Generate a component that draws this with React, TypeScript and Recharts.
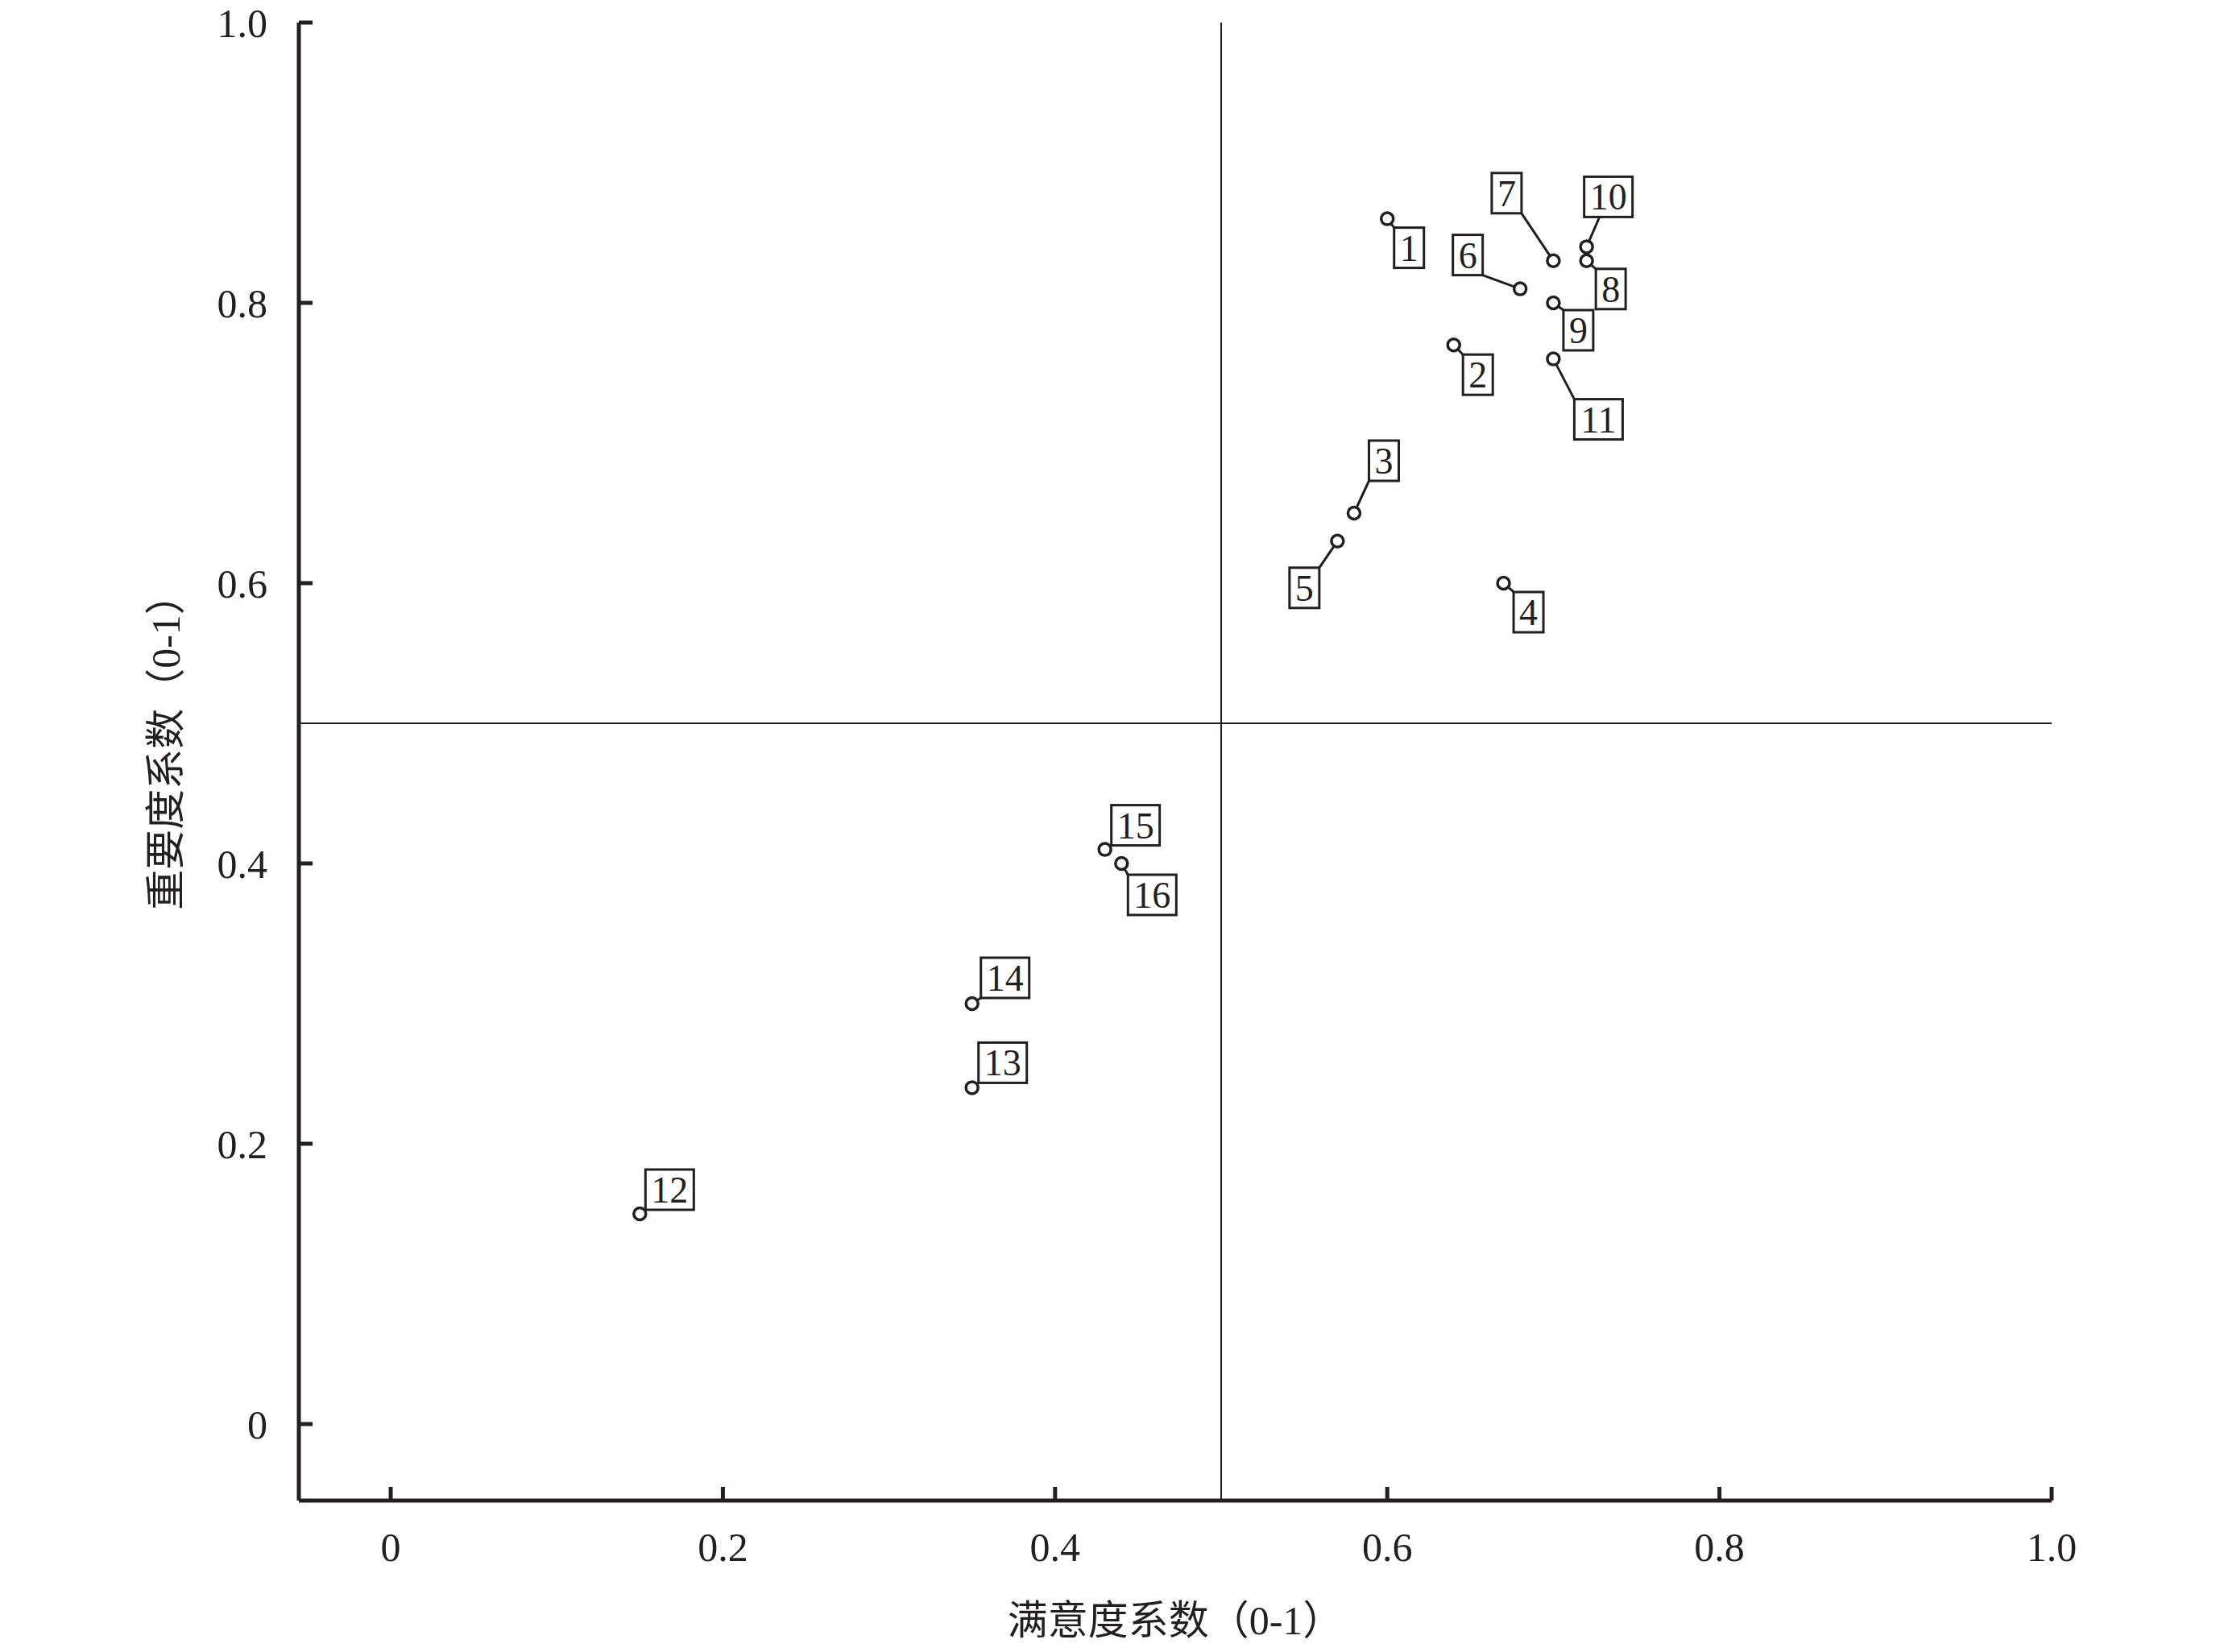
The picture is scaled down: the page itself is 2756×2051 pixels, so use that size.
import React from 'react';
import { ScatterChart, Scatter, XAxis, YAxis, ReferenceLine, Label } from 'recharts';

// ---- data ----
const itemIds = ['1', '2', '3', '4', '5', '6', '7', '8', '9', '10', '11', '12', '13', '14', '15', '16'];
const satisfaction = [0.6, 0.64, 0.58, 0.67, 0.57, 0.68, 0.7, 0.72, 0.7, 0.72, 0.7, 0.15, 0.35, 0.35, 0.43, 0.44];
const importance = [0.86, 0.77, 0.65, 0.6, 0.63, 0.81, 0.83, 0.83, 0.8, 0.84, 0.76, 0.15, 0.24, 0.3, 0.41, 0.4];
const xTicks = [0, 0.2, 0.4, 0.6, 0.8, 1.0];
const yTicks = [0, 0.2, 0.4, 0.6, 0.8, 1.0];
const xTitle = '满意度系数（0-1）';
const yTitle = '重要度系数（0-1）';
const thresholdX = 0.5;
const thresholdY = 0.5;

// ---- label placement (styling: box-centre offset from its point, px) ----
const labelOffsets: [number, number][] = [
  [27, 36], [30, 37], [37, -65], [31, 36], [-41, 58], [-65, -42], [-58, -84], [30, 35],
  [31, 34], [27, -62], [56, 75], [37, -30], [38, -31], [41, -32], [38, -30], [38, 39],
];
// leader lines that aim at the box centre instead of the nearest box point
const centreAimed = ['10'];

const INK = '#231f20';
const SERIF = "'Liberation Serif', 'Times New Roman', 'Noto Sans CJK SC', serif";

const data = itemIds.map((id, i) => ({ id, x: satisfaction[i], y: importance[i] }));

const fmt = (v: number) => (v === 0 ? '0' : v.toFixed(1));

const PointShape = (props: any) => {
  const { cx, cy, payload } = props;
  if (cx == null || cy == null) return null;
  const idx = itemIds.indexOf(payload.id);
  const [dx, dy] = labelOffsets[idx];
  const text = String(payload.id);
  const w = text.length * 23 + 14;
  const h = 50;
  const bx = cx + dx - w / 2;
  const by = cy + dy - h / 2;
  let lx = Math.min(Math.max(cx, bx), bx + w);
  let ly = Math.min(Math.max(cy, by), by + h);
  if (centreAimed.includes(text)) {
    const tx = dx !== 0 ? (w / 2) / Math.abs(dx) : Infinity;
    const ty = dy !== 0 ? (h / 2) / Math.abs(dy) : Infinity;
    const t = 1 - Math.min(tx, ty, 1);
    lx = cx + dx * t;
    ly = cy + dy * t;
  }
  return (
    <g>
      <line x1={cx} y1={cy} x2={lx} y2={ly} stroke={INK} strokeWidth={3} />
      <rect x={bx} y={by} width={w} height={h} fill="#fff" stroke={INK} strokeWidth={3} />
      <text x={cx + dx} y={cy + dy + 16} textAnchor="middle" fontSize={46} fontFamily={SERIF} fill={INK}>
        {text}
      </text>
      <circle cx={cx} cy={cy} r={7.5} fill="#fff" stroke={INK} strokeWidth={3.5} />
    </g>
  );
};

const YTitle = (p: any) => {
  const vb = p.viewBox || { x: 0, y: 28, width: 371, height: 1835 };
  const x = vb.x + 206;
  const y = vb.y + vb.height / 2 - 24;
  return (
    <text x={x} y={y} transform={`rotate(-90, ${x}, ${y})`} textAnchor="middle" dominantBaseline="central"
      fontSize={50} fontFamily={SERIF} fill={INK}>
      {yTitle}
    </text>
  );
};

const XTitle = (p: any) => {
  const vb = p.viewBox || { x: 371, y: 1863, width: 2176, height: 188 };
  const x = vb.x + vb.width / 2;
  const y = vb.y + 166;
  return (
    <text x={x} y={y} textAnchor="middle" fontSize={50} fontFamily={SERIF} fill={INK}>
      {xTitle}
    </text>
  );
};

export default function App() {
  return (
    <div style={{ width: 2756, height: 2051, background: '#fff', margin: -8 }}>
      <style>{'svg { overflow: visible; }'}</style>
      <ScatterChart width={2756} height={2051} margin={{ top: 28, right: 209, left: 0, bottom: 0 }}>
        <XAxis
          type="number"
          dataKey="x"
          domain={[-0.0553, 1]}
          allowDataOverflow
          ticks={xTicks}
          interval={0}
          tickFormatter={fmt}
          height={188}
          axisLine={{ stroke: INK, strokeWidth: 5 }}
          tickLine={{ stroke: INK, strokeWidth: 5 }}
          tickSize={-17}
          tickMargin={56}
          tick={{ fontSize: 50, fill: INK, fontFamily: SERIF }}
        >
          <Label content={XTitle} />
        </XAxis>
        <YAxis
          type="number"
          dataKey="y"
          domain={[-0.0546, 1]}
          allowDataOverflow
          ticks={yTicks}
          interval={0}
          tickFormatter={fmt}
          width={371}
          axisLine={{ stroke: INK, strokeWidth: 5 }}
          tickLine={{ stroke: INK, strokeWidth: 5 }}
          tickSize={-17}
          tickMargin={56}
          tick={{ fontSize: 50, fill: INK, fontFamily: SERIF }}
        >
          <Label content={YTitle} />
        </YAxis>
        <ReferenceLine x={thresholdX} stroke={INK} strokeWidth={2} />
        <ReferenceLine y={thresholdY} stroke={INK} strokeWidth={2} />
        <Scatter data={data} shape={PointShape} isAnimationActive={false} />
      </ScatterChart>
    </div>
  );
}
